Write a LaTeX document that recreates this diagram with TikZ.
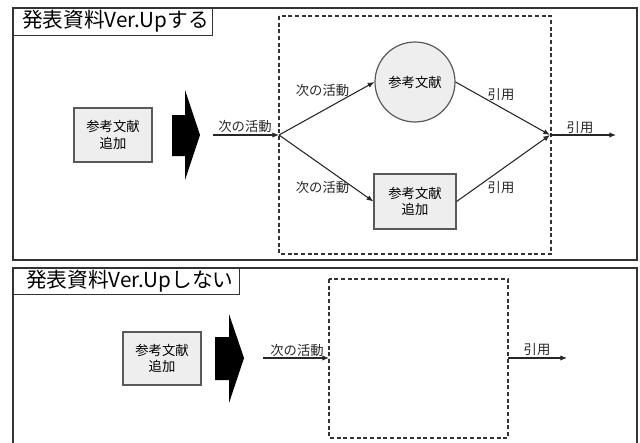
\documentclass[tikz,border=0pt]{standalone}
\usepackage{fontspec}
\setmainfont{Noto Sans CJK JP}
\usetikzlibrary{arrows.meta}
\definecolor{boxgray}{HTML}{EEEEEE}
\definecolor{edge}{HTML}{333333}
\tikzset{
  panel/.style={draw=edge, line width=1.2pt},
  titlebox/.style={draw=edge, line width=1pt, fill=white},
  titletext/.style={font=\fontsize{15.5}{18}\selectfont, anchor=west, inner sep=0pt},
  refbox/.style={draw=black!65, line width=0.9pt, fill=boxgray, inner sep=0pt, align=center,
    font=\fontsize{10}{12.5}\selectfont},
  refcircle/.style={circle, draw=black!65, line width=0.9pt, fill=boxgray, inner sep=0pt,
    minimum size=60pt, font=\fontsize{10}{12.5}\selectfont},
  group/.style={draw=edge, line width=0.8pt, dash pattern=on 3pt off 2pt},
  flow/.style={draw=black!85, line width=0.8pt, -{Latex[length=5pt,width=4pt]}},
  lbl/.style={font=\fontsize{10}{12}\selectfont, inner sep=0pt, text=black!85},
  bigarrow/.style={fill=black, draw=none},
}
\begin{document}
\begin{tikzpicture}[x=0.75pt, y=-0.75pt]
\useasboundingbox (0,0) rectangle (640,443);

% ---- upper panel: with Ver.Up ----
\draw[panel] (13,8) rectangle (637,260);
\node[titlebox, minimum width=149.25pt, minimum height=20.25pt, anchor=north west, inner sep=0pt] (t1) at (13,8) {};
\node[titletext] at (22,21.5) {発表資料Ver.Upする};

\draw[group] (279,16) rectangle (551,254);

\node[refbox, minimum width=58.5pt, minimum height=40.5pt] (add1) at (113,135) {参考文献\\追加};
\path[bigarrow] (172,115) -- (185,115) -- (185,90) -- (200,135) -- (185,180) -- (185,156) -- (172,156) -- cycle;

\coordinate (in1) at (213,135);
\coordinate (j1) at (279,135);
\coordinate (j2) at (550,135);
\coordinate (out1) at (616,135);

\node[refcircle] (cit) at (415,82) {参考文献};
\node[refbox, minimum width=61.5pt, minimum height=41.25pt] (add2) at (415,201.5) {参考文献\\追加};

\draw[flow] (in1) -- (j1);
\node[lbl] at (245,126.5) {次の活動};
\draw[flow] (j1) -- (cit.west);
\draw[flow] (j1) -- (add2.west);
\node[lbl] at (322.5,90) {次の活動};
\node[lbl] at (322.5,187) {次の活動};
\draw[flow] (cit.east) -- (j2);
\draw[flow] (add2.east) -- (j2);
\node[lbl] at (501,95) {引用};
\node[lbl] at (501,188) {引用};
\draw[flow] (j2) -- (out1);
\node[lbl] at (580,127.5) {引用};

% ---- lower panel: without Ver.Up ----
\draw[panel] (637,446) -- (637,268) -- (13,268) -- (13,446);
\node[titlebox, minimum width=169.5pt, minimum height=19.5pt, anchor=north west, inner sep=0pt] (t2) at (13,268) {};
\node[titletext] at (26,281) {発表資料Ver.Upしない};

\draw[group] (329,279) rectangle (508,438);

\node[refbox, minimum width=58.5pt, minimum height=39.75pt] (add3) at (162,358.5) {参考文献\\追加};
\path[bigarrow] (215,337) -- (229,337) -- (229,314) -- (244,358) -- (229,403) -- (229,380) -- (215,380) -- cycle;

\coordinate (in2) at (263,358);
\coordinate (j3) at (329,358);
\coordinate (j4) at (508,358);
\coordinate (out2) at (567,358);

\draw[flow] (in2) -- (j3);
\node[lbl] at (297,350) {次の活動};
\draw[flow] (j4) -- (out2);
\node[lbl] at (537,350) {引用};
\end{tikzpicture}
\end{document}
